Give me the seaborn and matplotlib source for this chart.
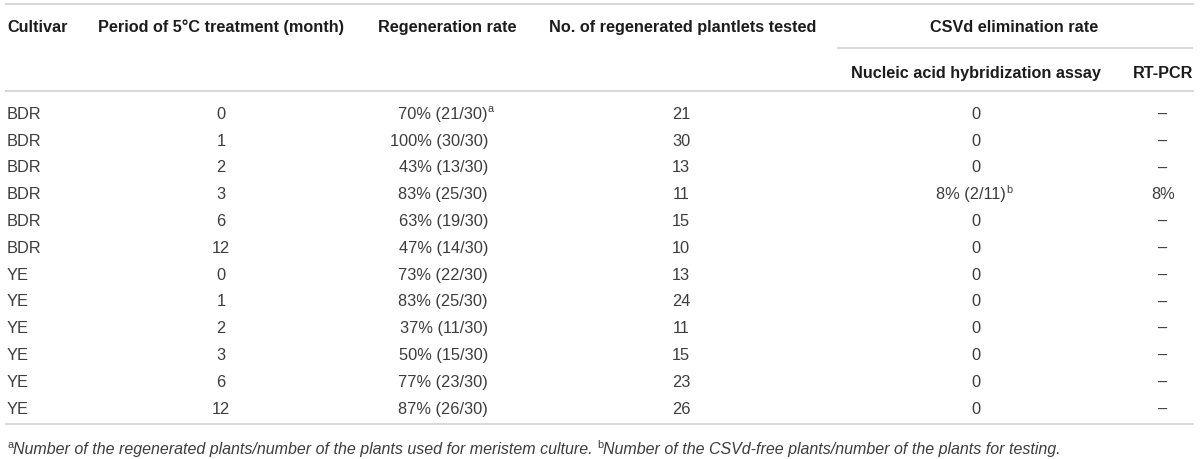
import matplotlib
matplotlib.use("Agg")
import matplotlib.pyplot as plt
import seaborn as sns

# table values
cultivars = ["BDR", "BDR", "BDR", "BDR", "BDR", "BDR", "YE", "YE", "YE", "YE", "YE", "YE"]
periods = [0, 1, 2, 3, 6, 12, 0, 1, 2, 3, 6, 12]
regen_pct = [70, 100, 43, 83, 63, 47, 73, 83, 37, 50, 77, 87]
regen_n = [21, 30, 13, 25, 19, 14, 22, 25, 11, 15, 23, 26]
regen_total = 30
tested = [21, 30, 13, 11, 15, 10, 13, 24, 11, 15, 23, 26]
hybrid = ["0", "0", "0", "8% (2/11)", "0", "0", "0", "0", "0", "0", "0", "0"]
rtpcr = ["–", "–", "–", "8%", "–", "–", "–", "–", "–", "–", "–", "–"]
regen_marks = {0: "a"}
hybrid_marks = {3: "b"}

headers = ["Cultivar", "Period of 5°C treatment (month)", "Regeneration rate",
           "No. of regenerated plantlets tested", "CSVd elimination rate"]
sub_headers = ["Nucleic acid hybridization assay", "RT-PCR"]
footnotes = [("a", "Number of the regenerated plants/number of the plants used for meristem culture. "),
             ("b", "Number of the CSVd-free plants/number of the plants for testing.")]

sns.set_theme(style="white")
plt.rcParams["font.family"] = ["Liberation Sans", "DejaVu Sans"]

fig = plt.figure(figsize=(12, 4.6), dpi=100)
ax = fig.add_axes([0, 0, 1, 1])
ax.set_xlim(0, 1200)
ax.set_ylim(460, 0)
ax.axis("off")

head_color = "#1c1c1c"
body_color = "#3d3d3d"
rule_color = "#d6d6d6"
fs_head = 11.7
fs_body = 11.8
fs_foot = 11.5
fs_sup = 7.8


def base(y, fs):
    # turn a cap-height centre into a baseline position (pixels, y down)
    return y + 0.358 * fs * 100 / 72


def cell(x, y, s, ha="center", fs=fs_body, **kw):
    kw.setdefault("color", body_color)
    return ax.text(x, base(y, fs), s, ha=ha, va="baseline", fontsize=fs, **kw)


def add_sup(prev, mark, color=body_color):
    # superscript glued to the right end of the previous text
    return ax.annotate(mark, xy=(1, 0.5), xycoords=prev, ha="left", va="bottom",
                       fontsize=fs_sup, color=color)


# rules
ax.hlines([5, 92, 425], 5, 1194, color=rule_color, lw=1.3)
ax.hlines(49, 837, 1193, color=rule_color, lw=1.3)

# header rows
head_y = 26
hk = dict(fs=fs_head, fontweight="bold", color=head_color)
cell(7, head_y, headers[0], ha="left", **hk)
cell(221, head_y, headers[1], **hk)
cell(447, head_y, headers[2], **hk)
cell(683, head_y, headers[3], **hk)
cell(1014, head_y, headers[4], **hk)
cell(976, 72, sub_headers[0], **hk)
cell(1163, 72, sub_headers[1], **hk)

# body rows
row0, row_step = 113, 26.8
for i in range(len(cultivars)):
    y = row0 + i * row_step
    cell(7, y, cultivars[i], ha="left")
    cell(221, y, str(periods[i]))
    t = cell(488, y, f"{regen_pct[i]}% ({regen_n[i]}/{regen_total})", ha="right")
    if i in regen_marks:
        add_sup(t, regen_marks[i])
    cell(681, y, str(tested[i]))
    t = cell(971 if i in hybrid_marks else 976, y, hybrid[i])
    if i in hybrid_marks:
        add_sup(t, hybrid_marks[i])
    cell(1163, y, rtpcr[i])

# footnote line with superscript markers
foot_y = base(448, fs_foot)
sup_y = foot_y - 6
prev = None
for mark, txt in footnotes:
    if prev is None:
        sup = ax.text(7, sup_y, mark, ha="left", va="baseline", fontsize=fs_sup, color=body_color)
    else:
        sup = ax.annotate(mark, xy=(1, sup_y), xycoords=(prev, "data"),
                          ha="left", va="baseline", fontsize=fs_sup, color=body_color)
    prev = ax.annotate(txt, xy=(1, foot_y), xycoords=(sup, "data"), ha="left", va="baseline",
                       fontsize=fs_foot, fontstyle="italic", color=body_color)

fig.savefig("out.png", dpi=100, facecolor="white")
